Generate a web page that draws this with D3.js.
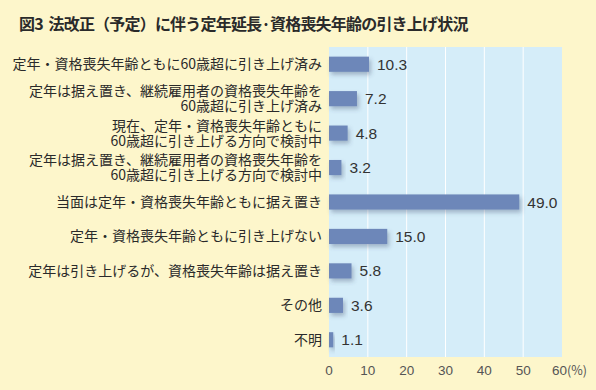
<!DOCTYPE html>
<html>
<head>
<meta charset="utf-8">
<script src="https://cdn.jsdelivr.net/npm/d3@7"></script>
<style>
  body { margin: 0; background: #fdf6cb; }
  text { font-family: "Noto Sans CJK JP", "Noto Sans", sans-serif; }
</style>
</head>
<body>
<div id="chart"></div>
<script>
var categories = [
    ["定年・資格喪失年齢ともに60歳超に引き上げ済み"],
    ["定年は据え置き、継続雇用者の資格喪失年齢を", "60歳超に引き上げ済み"],
    ["現在、定年・資格喪失年齢ともに", "60歳超に引き上げる方向で検討中"],
    ["定年は据え置き、継続雇用者の資格喪失年齢を", "60歳超に引き上げる方向で検討中"],
    ["当面は定年・資格喪失年齢ともに据え置き"],
    ["定年・資格喪失年齢ともに引き上げない"],
    ["定年は引き上げるが、資格喪失年齢は据え置き"],
    ["その他"],
    ["不明"]
];
var values = [10.3, 7.2, 4.8, 3.2, 49.0, 15.0, 5.8, 3.6, 1.1];
var ticks = [0, 10, 20, 30, 40, 50, 60];
var title = "図3  法改正（予定）に伴う定年延長·資格喪失年齢の引き上げ状況";

var width = 596, height = 390,
    margin = { top: 47, right: 34, bottom: 33, left: 329 };

var svg = d3.select("#chart").append("svg")
    .attr("width", width)
    .attr("height", height);

svg.append("rect")
    .attr("width", width)
    .attr("height", height)
    .attr("fill", "#fdf6cb");

var defs = svg.append("defs");
var f = defs.append("filter").attr("id", "shadow")
    .attr("x", "-20%").attr("y", "-40%").attr("width", "150%").attr("height", "200%");
f.append("feDropShadow")
    .attr("dx", 2).attr("dy", 3).attr("stdDeviation", 2)
    .attr("flood-color", "#3a4a6a").attr("flood-opacity", 0.35);

svg.append("text")
    .attr("x", 19)
    .attr("y", 30)
    .attr("font-size", 16)
    .attr("font-weight", "bold")
    .attr("letter-spacing", -0.8)
    .attr("fill", "#2a2a2a")
    .style("white-space", "pre")
    .text(title);

var x = d3.scaleLinear()
    .domain([0, 60])
    .range([margin.left, width - margin.right]);

var y = d3.scaleBand()
    .domain(d3.range(values.length))
    .range([margin.top, height - margin.bottom])
    .paddingInner(0.56)
    .paddingOuter(0.28);

// plot background
svg.append("rect")
    .attr("x", x(0))
    .attr("y", margin.top)
    .attr("width", x(60) - x(0))
    .attr("height", height - margin.bottom - margin.top)
    .attr("fill", "#d5edf9");

svg.selectAll(".grid")
    .data(ticks.slice(1, -1))
    .enter().append("line")
    .attr("x1", function(d) { return x(d); })
    .attr("x2", function(d) { return x(d); })
    .attr("y1", margin.top)
    .attr("y2", height - margin.bottom)
    .attr("stroke", "#ffffff")
    .attr("stroke-width", 1);

// bars
svg.selectAll(".bar")
    .data(values)
    .enter().append("rect")
    .attr("class", "bar")
    .attr("x", x(0))
    .attr("y", function(d, i) { return y(i); })
    .attr("width", function(d) { return x(d) - x(0); })
    .attr("height", y.bandwidth())
    .attr("fill", "#6d87b9")
    .attr("filter", "url(#shadow)");

// value labels
svg.selectAll(".val")
    .data(values)
    .enter().append("text")
    .attr("x", function(d) { return x(d) + 8; })
    .attr("y", function(d, i) { return y(i) + y.bandwidth() / 2; })
    .attr("dy", "0.36em")
    .attr("font-size", 15.5)
    .attr("fill", "#333")
    .style("font-family", "'Liberation Sans', Arial, sans-serif")
    .text(function(d) { return d.toFixed(1); });

// category labels
var fs = 14, lineH = 14.7;
var catLabels = svg.selectAll(".cat")
    .data(categories)
    .enter().append("text")
    .attr("text-anchor", "end")
    .attr("font-size", fs)
    .attr("fill", "#2a2a2a")
    .attr("y", function(d, i) { return y(i) + y.bandwidth() / 2; });

catLabels.selectAll("tspan")
    .data(function(d) { return d.map(function(t, j) { return { t: t, j: j, n: d.length }; }); })
    .enter().append("tspan")
    .attr("x", 322)
    .attr("dy", function(d) {
        if (d.j === 0) return (0.36 * fs - (d.n - 1) * lineH / 2) + "px";
        return lineH + "px";
    })
    .text(function(d) { return d.t; });

// x axis labels
svg.selectAll(".tick")
    .data(ticks.slice(0, -1))
    .enter().append("text")
    .attr("x", function(d) { return x(d); })
    .attr("y", 375)
    .attr("text-anchor", "middle")
    .attr("font-size", 13.5)
    .attr("fill", "#555")
    .style("font-family", "'Liberation Sans', Arial, sans-serif")
    .text(function(d) { return d; });

var last = svg.append("text")
    .attr("x", x(ticks[ticks.length - 1]) - 10)
    .attr("y", 375)
    .attr("font-size", 13.5)
    .attr("fill", "#555")
    .style("font-family", "'Liberation Sans', Arial, sans-serif")
    .text(ticks[ticks.length - 1]);
last.append("tspan")
    .attr("font-size", 12.5)
    .style("font-family", "'Noto Sans CJK JP', sans-serif")
    .text("(%)");
</script>
</body>
</html>
